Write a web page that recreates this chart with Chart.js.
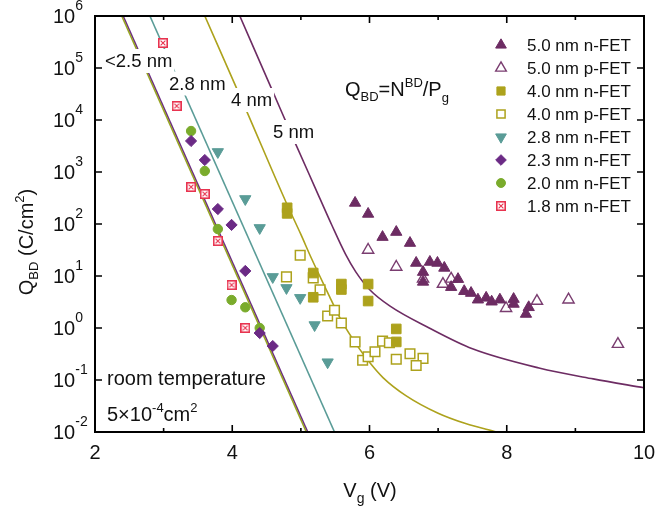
<!DOCTYPE html>
<html>
<head>
<meta charset="utf-8">
<script src="https://cdn.jsdelivr.net/npm/chart.js@4.4.1/dist/chart.umd.min.js"></script>
<style>
  html, body { margin: 0; padding: 0; background: #fff; }
</style>
</head>
<body>
<canvas id="qbd" width="655" height="510"></canvas>
<script>
'use strict';

/* ── Data: Vg (V) vs QBD (C/cm2) ─────────────────────────────────── */
const v50n = [5.79, 5.98, 6.19, 6.39, 6.59, 6.68, 6.78, 6.78, 6.88, 6.99, 7.09, 7.19, 7.29, 7.38, 7.48, 7.58, 7.70, 7.78, 7.90, 8.10, 8.10, 8.32, 8.28];
const q50n = [254, 156, 56, 70, 43, 17.8, 11.9, 7.7, 18.6, 17.8, 14.3, 6.1, 8.7, 5.1, 4.7, 3.5, 3.8, 3.2, 3.5, 3.6, 2.9, 2.5, 1.86];

const v50p = [5.98, 6.39, 6.78, 7.07, 7.19, 7.99, 8.44, 8.90, 9.62];
const q50p = [31.6, 14.9, 8.8, 7.0, 8.8, 2.4, 3.3, 3.5, 0.49];

const v40n = [4.80, 4.80, 5.18, 5.18, 5.59, 5.59, 5.98, 5.98, 6.39, 6.39];
const q40n = [205, 160, 11.4, 3.9, 7.0, 5.5, 7.0, 3.3, 0.96, 0.54];

const v40p = [4.79, 4.99, 5.18, 5.28, 5.39, 5.49, 5.59, 5.79, 5.90, 5.98, 6.08, 6.19, 6.29, 6.39, 6.59, 6.78, 6.68];
const q40p = [9.6, 25, 9.2, 5.4, 1.7, 2.2, 1.25, 0.54, 0.24, 0.28, 0.35, 0.56, 0.52, 0.25, 0.32, 0.26, 0.19];

const v28n = [3.79, 4.19, 4.40, 4.59, 4.79, 4.99, 5.20, 5.39];
const q28n = [2430, 303, 84, 9.6, 5.9, 3.8, 1.14, 0.22];

const v23n = [3.40, 3.60, 3.79, 3.99, 4.19, 4.40, 4.59];
const q23n = [3950, 1700, 194, 96, 12.5, 0.80, 0.45];

const v20n = [3.40, 3.60, 3.79, 3.99, 4.19, 4.40];
const q20n = [6140, 1045, 80, 3.45, 2.5, 1.0];

const v18n = [2.99, 3.19, 3.40, 3.60, 3.79, 3.99, 4.19];
const q18n = [303000, 18600, 515, 378, 47, 6.7, 1.0];

// model curves
const vLine23 = [2.41, 5.10];
const qLine23 = [1e6, 0.01];
const vLine20 = [2.39, 5.08];
const qLine20 = [1e6, 0.01];
const vLine28 = [2.80, 5.49];
const qLine28 = [1e6, 0.01];
const vLine40 = [3.60, 4.20, 4.79, 5.00, 5.15, 5.42, 5.50, 5.60, 5.80, 6.00, 6.20, 6.53, 7.00, 7.40, 7.85];
const qLine40 = [1e6, 15850, 251, 63, 22.4, 3.98, 2.4, 1.32, 0.5, 0.219, 0.11, 0.05, 0.0229, 0.0145, 0.01];
const vLine50 = [4.11, 4.58, 4.91, 5.20, 5.45, 5.65, 5.80, 6.00, 6.30, 6.87, 7.50, 8.47, 9.26, 10.0];
const qLine50 = [1e6, 38000, 3800, 525, 95.5, 26.3, 12.0, 5.5, 2.63, 1.0, 0.398, 0.17, 0.105, 0.0708];

const xTicks = [2, 3, 4, 5, 6, 7, 8, 9, 10];
const xLabels = [2, 4, 6, 8, 10];
const yExps = [-2, -1, 0, 1, 2, 3, 4, 5, 6];

/* ── Styles ─────────────────────────────────────────────────────── */
const FONT = '"Liberation Sans", Arial, sans-serif';
const COL = {
  plum:   '#6d2c63',
  plumLt: '#7a3d70',
  violet: '#6b2a85',
  olive:  '#ada21c',
  teal:   '#5a9c97',
  green:  '#7aab2c',
  lime:   '#97a424',
  red:    '#e8334f',
};

function crossBox(size, color) {
  const cv = document.createElement('canvas');
  cv.width = size; cv.height = size;
  const g = cv.getContext('2d');
  g.fillStyle = '#fff';
  g.fillRect(0, 0, size, size);
  g.strokeStyle = color;
  g.lineWidth = 1.6;
  g.strokeRect(0.8, 0.8, size - 1.6, size - 1.6);
  g.lineWidth = 1.1;
  g.beginPath();
  g.moveTo(2.6, 2.6); g.lineTo(size - 2.6, size - 2.6);
  g.moveTo(size - 2.6, 2.6); g.lineTo(2.6, size - 2.6);
  g.stroke();
  return cv;
}
const redBox = crossBox(10, COL.red);

const pts = (xs, ys) => xs.map((x, i) => ({ x, y: ys[i] }));

const markers = [
  { label: '5.0 nm n-FET', v: v50n, q: q50n, style: 'triangle', rot: 0,   r: 6.5, bg: COL.plum,  bd: COL.plum,   bw: 1 },
  { label: '5.0 nm p-FET', v: v50p, q: q50p, style: 'triangle', rot: 0,   r: 6.5, bg: '#fff',    bd: COL.plumLt, bw: 1.4 },
  { label: '4.0 nm n-FET', v: v40n, q: q40n, style: 'rect',     rot: 0,   r: 6.8, bg: COL.olive, bd: COL.olive,  bw: 1 },
  { label: '4.0 nm p-FET', v: v40p, q: q40p, style: 'rect',     rot: 0,   r: 6.8, bg: '#fff',    bd: COL.olive,  bw: 1.5 },
  { label: '2.8 nm n-FET', v: v28n, q: q28n, style: 'triangle', rot: 180, r: 6.5, bg: COL.teal,  bd: COL.teal,   bw: 1 },
  { label: '2.3 nm n-FET', v: v23n, q: q23n, style: 'rectRot',  rot: 0,   r: 5.6, bg: COL.violet, bd: COL.violet, bw: 1 },
  { label: '2.0 nm n-FET', v: v20n, q: q20n, style: 'circle',   rot: 0,   r: 4.7, bg: COL.green, bd: COL.green,  bw: 1 },
  { label: '1.8 nm n-FET', v: v18n, q: q18n, style: redBox,     rot: 0,   r: 5,   bg: COL.red,   bd: COL.red,    bw: 1 },
];

const curves = [
  { v: vLine50, q: qLine50, color: COL.plum,   tension: true },
  { v: vLine40, q: qLine40, color: COL.olive,  tension: true },
  { v: vLine28, q: qLine28, color: COL.teal,   tension: false },
  { v: vLine20, q: qLine20, color: COL.lime,   tension: false },
  { v: vLine23, q: qLine23, color: COL.violet, tension: false },
];

const datasets = [];
markers.forEach(m => datasets.push({
  type: 'scatter',
  label: m.label,
  data: pts(m.v, m.q),
  pointStyle: m.style,
  rotation: m.rot,
  pointRadius: m.r,
  pointBackgroundColor: m.bg,
  pointBorderColor: m.bd,
  pointBorderWidth: m.bw,
  showLine: false,
}));
curves.forEach(c => datasets.push({
  type: 'line',
  data: pts(c.v, c.q),
  borderColor: c.color,
  borderWidth: 1.6,
  pointRadius: 0,
  fill: false,
  cubicInterpolationMode: c.tension ? 'monotone' : 'default',
  tension: 0,
}));

/* ── Text helpers ───────────────────────────────────────────────── */
function partsWidth(ctx, parts) {
  let w = 0;
  parts.forEach(p => { ctx.font = p[1] + 'px ' + FONT; w += ctx.measureText(p[0]).width; });
  return w;
}
function rich(ctx, parts, x, y, center) {
  let cx = center ? x - partsWidth(ctx, parts) / 2 : x;
  ctx.textAlign = 'left';
  ctx.textBaseline = 'alphabetic';
  parts.forEach(p => {
    ctx.font = p[1] + 'px ' + FONT;
    ctx.fillText(p[0], cx, y + (p[2] || 0));
    cx += ctx.measureText(p[0]).width;
  });
}

/* ── Labels on the curves (white boxes break the lines) ─────────── */
const curveLabels = [
  { text: '<2.5 nm', x: 105, y: 61 },
  { text: '2.8 nm',  x: 169, y: 83.5 },
  { text: '4 nm',    x: 231, y: 100 },
  { text: '5 nm',    x: 273, y: 132 },
];

const decorPlugin = {
  id: 'decor',
  afterDatasetsDraw(chart) {
    const ctx = chart.ctx;
    ctx.save();
    ctx.font = '18.5px ' + FONT;
    ctx.textBaseline = 'middle';
    ctx.textAlign = 'left';
    curveLabels.forEach(l => {
      const w = ctx.measureText(l.text).width;
      ctx.fillStyle = '#fff';
      ctx.fillRect(l.x - 2, l.y - 12, w + 4, 24);
      ctx.fillStyle = '#111';
      ctx.fillText(l.text, l.x, l.y + 1);
    });
    ctx.restore();
  },
  afterDraw(chart) {
    const ctx = chart.ctx;
    const a = chart.chartArea;
    const xs = chart.scales.x, ys = chart.scales.y;
    ctx.save();
    ctx.strokeStyle = '#000';
    ctx.fillStyle = '#111';

    // frame
    ctx.lineWidth = 2;
    ctx.strokeRect(a.left, a.top, a.right - a.left, a.bottom - a.top);

    // x ticks (inward, bottom and top)
    ctx.lineWidth = 1.6;
    ctx.beginPath();
    xTicks.forEach(v => {
      const px = xs.getPixelForValue(v);
      const len = v % 2 === 0 ? 7 : 4;
      ctx.moveTo(px, a.bottom); ctx.lineTo(px, a.bottom - len);
      ctx.moveTo(px, a.top);    ctx.lineTo(px, a.top + len);
    });
    // y ticks (inward, left and right)
    yExps.forEach(e => {
      const py = ys.getPixelForValue(Math.pow(10, e));
      ctx.moveTo(a.left, py);  ctx.lineTo(a.left + 7, py);
      ctx.moveTo(a.right, py); ctx.lineTo(a.right - 7, py);
    });
    ctx.stroke();

    // x tick labels
    ctx.font = '20px ' + FONT;
    ctx.textAlign = 'center';
    ctx.textBaseline = 'alphabetic';
    xLabels.forEach(v => ctx.fillText(String(v), xs.getPixelForValue(v), 459));

    // y tick labels 10^n
    yExps.forEach(e => {
      const py = ys.getPixelForValue(Math.pow(10, e));
      rich(ctx, [['10', 20], [e < 0 ? '-' + (-e) : String(e), 14, -13]], 53, py + 7, false);
    });

    // axis titles
    rich(ctx, [['V', 20], ['g', 14, 6], [' (V)', 20]], 370, 497, true);
    ctx.save();
    ctx.translate(33, 242);
    ctx.rotate(-Math.PI / 2);
    rich(ctx, [['Q', 20], ['BD', 13, 5], [' (C/cm', 20], ['2', 13, -9], [')', 20]], 0, 0, true);
    ctx.restore();

    // annotations
    rich(ctx, [['Q', 20], ['BD', 13, 5], ['=N', 20], ['BD', 13, -9], ['/P', 20], ['g', 13, 6]], 345, 96, false);
    rich(ctx, [['room temperature', 20]], 107, 385, false);
    rich(ctx, [['5\u00d710', 20], ['-4', 13, -9], ['cm', 20], ['2', 13, -9]], 107, 421, false);

    // legend
    const drawPoint = Chart.helpers && Chart.helpers.drawPoint;
    markers.forEach((m, i) => {
      const cy = 45 + i * 23;
      ctx.save();
      ctx.fillStyle = m.bg;
      ctx.strokeStyle = m.bd;
      ctx.lineWidth = m.bw;
      if (drawPoint) {
        drawPoint(ctx, {
          pointStyle: m.style,
          radius: m.style === 'rect' ? m.r * 0.85 : m.r * 0.95,
          rotation: m.rot,
          borderWidth: m.bw,
        }, 501, cy);
      }
      ctx.restore();
      ctx.fillStyle = '#111';
      ctx.font = '17px ' + FONT;
      ctx.textAlign = 'left';
      ctx.textBaseline = 'middle';
      ctx.fillText(m.label, 527, cy + 1);
    });

    ctx.restore();
  },
};

/* ── Chart ─────────────────────────────────────────────────────── */
new Chart(document.getElementById('qbd'), {
  type: 'scatter',
  data: { datasets },
  plugins: [decorPlugin],
  options: {
    responsive: false,
    animation: false,
    devicePixelRatio: 1,
    events: [],
    layout: { padding: { left: 95, right: 11, top: 16, bottom: 78 } },
    plugins: { legend: { display: false }, tooltip: { enabled: false } },
    scales: {
      x: {
        type: 'linear', min: 2, max: 10,
        display: false,
      },
      y: {
        type: 'logarithmic', min: 0.01, max: 1e6,
        display: false,
      },
    },
  },
});
</script>
</body>
</html>
